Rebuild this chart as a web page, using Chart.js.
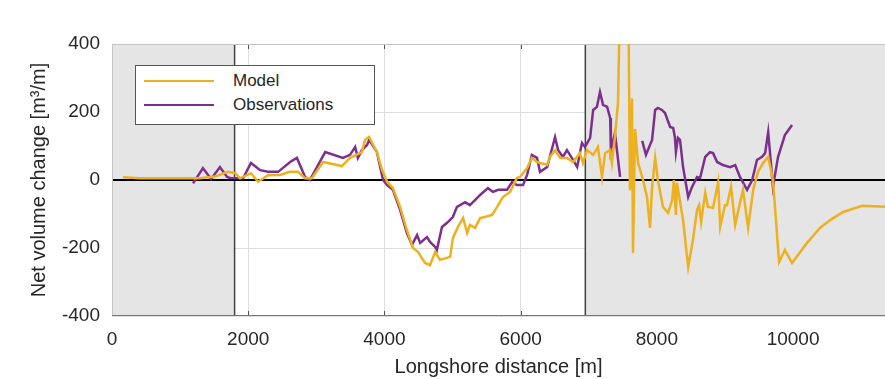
<!DOCTYPE html>
<html>
<head>
<meta charset="utf-8">
<script src="https://cdn.jsdelivr.net/npm/chart.js@4.4.1/dist/chart.umd.min.js"></script>
<style>
    body { margin: 0; background: #fff; }
    #wrap { position: relative; width: 885px; height: 379px; }
    #legend {
        position: absolute; left: 135px; top: 65px; width: 238px; height: 58px;
        border: 1px solid #555; background: #fff;
        font-family: "Liberation Sans", Arial, sans-serif; font-size: 17px; color: #262626;
    }
    .row { position: absolute; left: 8px; height: 20px; line-height: 20px; }
    .swatch { position: absolute; left: 0; top: 9px; width: 70px; height: 2px; }
    .label { position: absolute; left: 89px; white-space: nowrap; }
</style>
</head>
<body>
<div id="wrap">
    <canvas id="chart"></canvas>
    <div id="legend">
        <div class="row" style="top: 5px;"><span class="swatch" style="background:#EDB120"></span><span class="label">Model</span></div>
        <div class="row" style="top: 29px;"><span class="swatch" style="background:#7E2F8E"></span><span class="label">Observations</span></div>
    </div>
</div>
<script>
// longshore distance [m] and net volume change [m3/m]
const modelX = [160, 410, 850, 1290, 1510, 1700, 1810, 1880, 2040, 2145, 2290, 2465, 2615, 2730, 2835, 2935,
    3100, 3375, 3495, 3670, 3715, 3775, 3890, 3965, 4040, 4125, 4230, 4330, 4420, 4495, 4595, 4670, 4745,
    4815, 4965, 5005, 5080, 5155, 5215, 5255, 5330, 5405, 5475, 5580, 5655, 5740, 5845, 5945, 5990, 6095,
    6165, 6240, 6285, 6390, 6430, 6505, 6580, 6680, 6770, 6870, 6915, 6975, 7065, 7135, 7195, 7240, 7315,
    7340, 7385, 7430, 7475, 7575, 7605, 7635, 7650, 7680, 7725, 7785, 7855, 7900, 7930, 7975, 8015, 8090,
    8165, 8225, 8250, 8280, 8295, 8385, 8460, 8530, 8590, 8620, 8650, 8710, 8750, 8825, 8900, 8930, 9000,
    9030, 9090, 9150, 9220, 9265, 9340, 9415, 9485, 9560, 9635, 9705, 9795, 9880, 9985, 10205, 10395,
    10545, 10735, 11015, 11350];
const modelY = [8, 5, 5, 5, 10, 24, 20, 5, 20, -5, 14, 15, 24, 24, 5, 5,
    53, 41, 65, 82, 118, 127, 82, 30, -5, -24, -79, -147, -200, -212, -244, -250, -212,
    -235, -226, -171, -138, -112, -156, -132, -141, -112, -109, -103, -79, -50, -35, 6, 9, 35,
    65, 53, 50, 45, 68, 88, 65, 65, 53, 79, 50, 88, 74, 97, 9, 79, 88,
    50, 126, 229, 700, 700, -30, 240, -215, 150, 50, 9, -50, -141, -20, 65, 0, -79,
    -97, -59, 0, -103, -9, -118, -256, -176, -88, -74, -124, -38, -79, -82, -6, -138, -74,
    -74, -20, -132, -68, -29, -141, -29, 24, 50, 68, 0, -241, -206, -244, -185, -141,
    -118, -94, -76, -79];

const obsX = [1190, 1335, 1455, 1585, 1690, 1735, 1925, 2040, 2175, 2290, 2440, 2615, 2715, 2835, 2905,
    3130, 3390, 3495, 3570, 3610, 3670, 3745, 3775, 3890, 3980, 4040, 4125, 4230, 4330, 4405, 4480, 4525,
    4625, 4670, 4745, 4770, 4845, 4920, 5005, 5065, 5185, 5255, 5330, 5405, 5520, 5595, 5670, 5800, 5875,
    5945, 6035, 6095, 6165, 6240, 6285, 6390, 6505, 6550, 6620, 6680, 6770, 6830, 6900, 6945, 7020, 7065,
    7120, 7165, 7210, 7270, 7315, 7325, 7385, 7460, 7600, 7785, 7840, 7930, 7975, 8015, 8075, 8120, 8195,
    8240, 8265, 8280, 8310, 8340, 8385, 8460, 8515, 8590, 8635, 8710, 8780, 8825, 8885, 8970, 9075, 9150,
    9220, 9325, 9400, 9470, 9545, 9590, 9635, 9705, 9780, 9880, 9985];
const obsY = [-10, 35, 3, 38, 9, 6, 5, 50, 29, 24, 24, 53, 65, 9, 0,
    82, 65, 74, 97, 65, 88, 103, 118, 82, 0, -15, -29, -88, -156, -191, -162, -185,
    -168, -182, -197, -206, -138, -126, -109, -79, -65, -74, -59, -44, -24, -35, -29, -29, -6,
    -15, -15, 15, 74, 65, 24, 38, 126, 88, 68, 88, 59, 38, 109, 97, 124, 206,
    215, 259, 221, 215, 182, 88, 138, 9, null, 115, 74, 118, 206, 212, 206, 197, 156,
    153, 126, 82, 124, 118, 38, -50, -21, 9, 6, 68, 82, 79, 53, 44, 38, 44,
    9, -29, 0, 59, 68, 79, 141, -20, 68, 132, 162];

const xTicks = [0, 2000, 4000, 6000, 8000, 10000];
const yTicks = [-400, -200, 0, 200, 400];

// shaded (outside) stretches and the bounds of the study area
const shadeLeft = [0, 1800];
const shadeRight = [6950, 11350];

const font = '"Liberation Sans", Arial, sans-serif';

function toPoints(xs, ys) {
    return xs.map((x, i) => ({ x: x, y: ys[i] }));
}

const backdrop = {
    id: 'backdrop',
    beforeDatasetsDraw(chart) {
        const ctx = chart.ctx;
        const area = chart.chartArea;
        const sx = chart.scales.x;
        const sy = chart.scales.y;
        ctx.save();
        ctx.fillStyle = '#e5e5e5';
        [shadeLeft, shadeRight].forEach(r => {
            const a = sx.getPixelForValue(r[0]);
            const b = sx.getPixelForValue(r[1]);
            ctx.fillRect(a, area.top, b - a, area.bottom - area.top);
        });
        // tick marks inside the box
        ctx.strokeStyle = '#555';
        ctx.lineWidth = 1;
        [2000, 4000, 6000].forEach(v => {
            const p = Math.round(sx.getPixelForValue(v)) + 0.5;
            ctx.beginPath();
            ctx.moveTo(p, area.bottom); ctx.lineTo(p, area.bottom - 5);
            ctx.moveTo(p, area.top); ctx.lineTo(p, area.top + 5);
            ctx.stroke();
        });
        // study area bounds
        ctx.strokeStyle = '#404040';
        ctx.lineWidth = 1.5;
        [shadeLeft[1], shadeRight[0]].forEach(v => {
            const p = sx.getPixelForValue(v);
            ctx.beginPath();
            ctx.moveTo(p, area.top); ctx.lineTo(p, area.bottom);
            ctx.stroke();
        });
        // zero line
        ctx.strokeStyle = '#000';
        ctx.lineWidth = 2;
        const z = sy.getPixelForValue(0);
        ctx.beginPath();
        ctx.moveTo(area.left, z); ctx.lineTo(area.right, z);
        ctx.stroke();
        // box
        ctx.strokeStyle = '#c4c4c4';
        ctx.lineWidth = 1;
        ctx.strokeRect(area.left + 0.5, area.top + 0.5, area.right - area.left, area.bottom - area.top - 1);
        ctx.strokeStyle = '#777';
        ctx.beginPath();
        ctx.moveTo(area.left, area.bottom - 0.5); ctx.lineTo(area.right, area.bottom - 0.5);
        ctx.stroke();
        ctx.restore();
    }
};

new Chart(document.getElementById('chart'), {
    type: 'line',
    data: {
        datasets: [{
            label: 'Model',
            data: toPoints(modelX, modelY),
            borderColor: '#EDB120',
            borderWidth: 2.5,
            pointRadius: 0,
            tension: 0
        }, {
            label: 'Observations',
            data: toPoints(obsX, obsY),
            borderColor: '#7E2F8E',
            borderWidth: 2.5,
            pointRadius: 0,
            tension: 0,
            spanGaps: false
        }]
    },
    options: {
        responsive: true,
        maintainAspectRatio: false,
        animation: false,
        layout: { padding: { top: 44, right: 0, left: 0, bottom: 0 } },
        plugins: { legend: { display: false }, tooltip: { enabled: false } },
        scales: {
            x: {
                type: 'linear',
                min: 0,
                max: 11350,
                afterBuildTicks: s => { s.ticks = xTicks.map(v => ({ value: v })); },
                afterFit: s => { s.height = 63; },
                border: { display: false },
                grid: { color: '#dedede', drawTicks: false },
                ticks: {
                    color: '#262626', padding: 12, font: { family: font, size: 19 },
                    callback: v => String(v)
                },
                title: {
                    display: true,
                    text: 'Longshore distance [m]',
                    color: '#262626',
                    padding: { top: 0, bottom: 0 },
                    font: { family: font, size: 20 }
                }
            },
            y: {
                min: -400,
                max: 400,
                afterBuildTicks: s => { s.ticks = yTicks.map(v => ({ value: v })); },
                afterFit: s => { s.width = 112; },
                border: { display: false },
                grid: { color: '#dedede', drawTicks: false },
                ticks: {
                    color: '#262626', padding: 12, font: { family: font, size: 19 },
                    callback: v => String(v)
                },
                title: {
                    display: true,
                    text: 'Net volume change [m³/m]',
                    color: '#262626',
                    padding: { top: 27, bottom: 0 },
                    font: { family: font, size: 20 }
                }
            }
        }
    },
    plugins: [backdrop]
});
</script>
</body>
</html>
